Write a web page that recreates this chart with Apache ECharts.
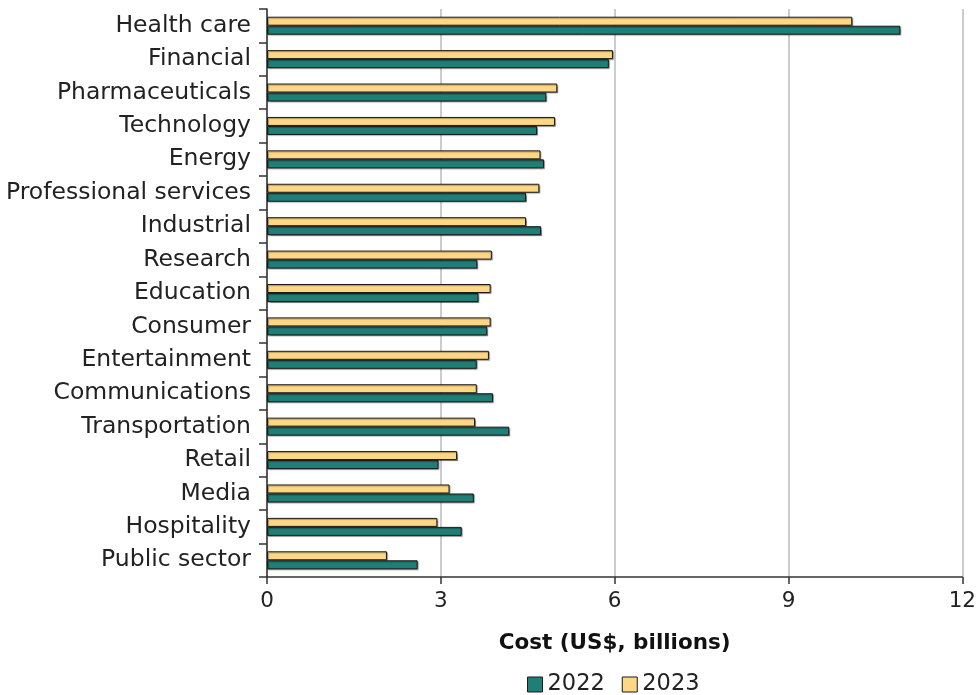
<!DOCTYPE html>
<html><head><meta charset="utf-8">
<script src="https://cdn.jsdelivr.net/npm/echarts@6/dist/echarts.min.js"></script>
<style>html,body{margin:0;padding:0;background:#fff}#c{width:979px;height:695px}</style>
</head><body><div id="c"></div>
<script>
const categories = ["Health care","Financial","Pharmaceuticals","Technology","Energy","Professional services","Industrial","Research","Education","Consumer","Entertainment","Communications","Transportation","Retail","Media","Hospitality","Public sector"];
const values2022 = [10.93,5.90,4.82,4.66,4.78,4.47,4.73,3.63,3.65,3.80,3.62,3.90,4.18,2.96,3.57,3.36,2.60];
const values2023 = [10.10,5.97,5.01,4.97,4.72,4.70,4.47,3.88,3.86,3.86,3.83,3.62,3.59,3.28,3.15,2.94,2.07];
const xTicks = [0,3,6,9,12];
const FONT = "DejaVu Sans";
const chart = echarts.init(document.getElementById('c'));
const barStyle = (c)=>({color:c,borderColor:'#1a1a1a',borderWidth:1,shadowColor:'rgba(0,0,0,0.35)',shadowOffsetX:1,shadowOffsetY:1,shadowBlur:1});
chart.setOption({
  animation:false,
  textStyle:{fontFamily:FONT},
  grid:{left:267,right:16,top:9,bottom:118,containLabel:false},
  legend:{data:['2022','2023'],top:668,left:522,itemWidth:15,itemHeight:15,itemGap:17,
    textStyle:{fontSize:22.5,color:'#222',fontFamily:FONT},icon:'rect',
    itemStyle:{borderColor:'#1a1a1a',borderWidth:1,shadowBlur:0,shadowOffsetX:0,shadowOffsetY:0}},
  xAxis:{type:'value',min:xTicks[0],max:xTicks[xTicks.length-1],interval:3,
    name:'Cost (US$, billions)',nameLocation:'middle',nameGap:55,
    nameTextStyle:{fontSize:21.5,fontWeight:'bold',color:'#111',fontFamily:FONT},
    axisLine:{show:true,lineStyle:{color:'#333',width:1.5}},
    axisTick:{show:true,length:7,lineStyle:{color:'#333',width:1.5}},
    axisLabel:{fontSize:21.5,color:'#222',margin:13,fontFamily:FONT},
    splitLine:{show:true,lineStyle:{color:'#bbb',width:1.5}}},
  yAxis:{type:'category',data:categories,inverse:true,
    axisLine:{show:true,lineStyle:{color:'#333',width:1.5}},
    axisTick:{show:true,length:8,alignWithLabel:false,lineStyle:{color:'#333',width:1.5}},
    axisLabel:{fontSize:23.5,color:'#222',margin:16,fontFamily:FONT},
    splitLine:{show:false}},
  series:[
    {name:'2023',type:'bar',data:values2023,barWidth:9,barGap:'0%',itemStyle:barStyle('#fed784')},
    {name:'2022',type:'bar',data:values2022,barWidth:9,barGap:'0%',itemStyle:barStyle('#1f7f76')}
  ]
});
</script></body></html>
